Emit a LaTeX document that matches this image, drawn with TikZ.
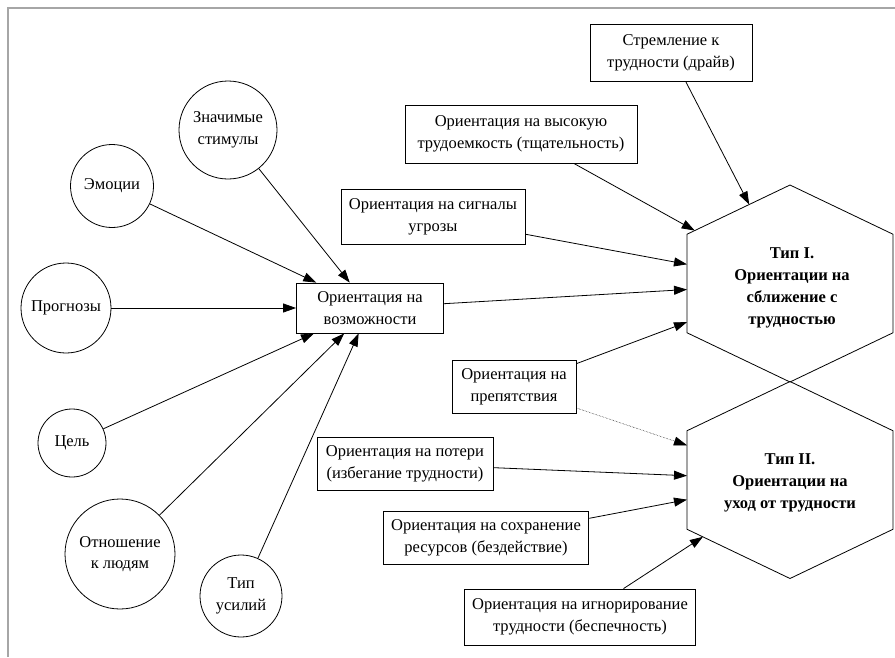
\documentclass[tikz,border=0pt]{standalone}
\usepackage{fontspec}
\setmainfont{Liberation Serif}
\usetikzlibrary{shapes.geometric,arrows.meta}
\begin{document}
\begin{tikzpicture}[x=1pt,y=-1pt,line width=0.8pt,
    every node/.style={font=\fontsize{16.5}{21.5}\selectfont,align=center},
    circ/.style={circle,draw,inner sep=0pt},
    box/.style={rectangle,draw,inner xsep=8pt,minimum height=53pt},
    hexa/.style={regular polygon,regular polygon sides=6,shape border rotate=30,draw,
                 minimum size=197pt,inner sep=0pt,outer sep=0pt,xscale=1.2075,transform shape},
    lbl/.style={font=\fontsize{16.5}{22}\selectfont\bfseries},
    arr/.style={-{Triangle[length=13pt,width=9pt]}}]
    \useasboundingbox (0,0) rectangle (895,657);
    \draw[gray!70,line width=2pt] (8,657) -- (8,8) -- (895,8);
    % factors
    \node[circ,minimum size=98pt] (stim) at (228,130) {Значимые\\стимулы};
    \node[circ,minimum size=83pt] (emo) at (112,186) {Эмоции};
    \node[circ,minimum size=90pt] (prog) at (66,308) {Прогнозы};
    \node[circ,minimum size=68pt] (goal) at (72,443) {Цель};
    \node[circ,minimum size=110pt] (rel) at (120,554) {Отношение\\к людям};
    \node[circ,minimum size=82pt] (eff) at (241,596) {Тип\\усилий};
    % orientations
    \node[box,minimum width=147pt,minimum height=50pt] (opp) at (370,308) {Ориентация на\\возможности};
    \node[box,minimum width=162pt,minimum height=57pt] (drive) at (671,53) {Стремление к\\трудности (драйв)};
    \node[box,minimum width=232pt,minimum height=58pt] (thor) at (521,134) {Ориентация на высокую\\трудоемкость (тщательность)};
    \node[box,minimum width=183pt,minimum height=55pt] (threat) at (433,217) {Ориентация на сигналы\\угрозы};
    \node[box,minimum width=124pt] (obst) at (514,387) {Ориентация на\\препятствия};
    \node[box,minimum width=176pt] (loss) at (405,464) {Ориентация на потери\\(избегание трудности)};
    \node[box,minimum width=204pt] (res) at (486,538) {Ориентация на сохранение\\ресурсов (бездействие)};
    \node[box,minimum width=225pt,minimum height=56pt] (ign) at (580,617) {Ориентация на игнорирование\\трудности (беспечность)};
    % types
    \begin{scope}[shift={(790,283.5)}]
        \node[hexa] (t1) {};
    \end{scope}
    \begin{scope}[shift={(790,480)}]
        \node[hexa] (t2) {};
    \end{scope}
    \node[lbl] (t1txt) at (792,288) {Тип I.\\Ориентации на\\сближение с\\трудностью};
    \node[lbl] (t2txt) at (790,483) {Тип II.\\Ориентации на\\уход от трудности};
    \path[draw,arr] (stim) -- (opp);
    \path[draw,arr] (emo) -- (opp);
    \path[draw,arr] (prog) -- (opp);
    \path[draw,arr] (goal) -- (opp);
    \path[draw,arr] (rel) -- (opp);
    \path[draw,arr] (eff) -- (opp);
    \path[draw,arr] (drive) -- (t1);
    \path[draw,arr] (thor) -- (t1);
    \path[draw,arr] (threat) -- (t1);
    \path[draw,arr] (opp) -- (t1);
    \path[draw,arr] (obst) -- (t1);
    \path[draw,arr,densely dotted,line width=0.5pt] (obst) -- (t2);
    \path[draw,arr] (loss) -- (t2);
    \path[draw,arr] (res) -- (t2);
    \path[draw,arr] (ign) -- (t2);
\end{tikzpicture}
\end{document}
